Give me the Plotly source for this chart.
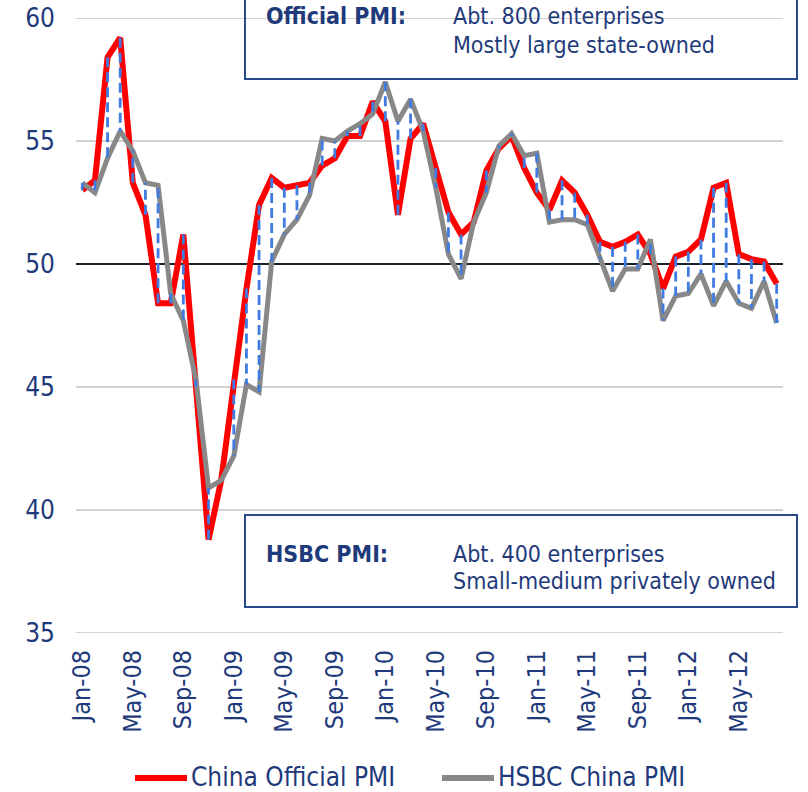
import plotly.graph_objects as go

# ---------------- data ----------------
months = [
    "Jan-08", "Feb-08", "Mar-08", "Apr-08", "May-08", "Jun-08", "Jul-08", "Aug-08", "Sep-08", "Oct-08", "Nov-08", "Dec-08",
    "Jan-09", "Feb-09", "Mar-09", "Apr-09", "May-09", "Jun-09", "Jul-09", "Aug-09", "Sep-09", "Oct-09", "Nov-09", "Dec-09",
    "Jan-10", "Feb-10", "Mar-10", "Apr-10", "May-10", "Jun-10", "Jul-10", "Aug-10", "Sep-10", "Oct-10", "Nov-10", "Dec-10",
    "Jan-11", "Feb-11", "Mar-11", "Apr-11", "May-11", "Jun-11", "Jul-11", "Aug-11", "Sep-11", "Oct-11", "Nov-11", "Dec-11",
    "Jan-12", "Feb-12", "Mar-12", "Apr-12", "May-12", "Jun-12", "Jul-12", "Aug-12",
]

official_pmi = [
    53.0, 53.4, 58.4, 59.2, 53.3, 52.0, 48.4, 48.4, 51.2, 45.0, 38.8, 41.2,
    45.3, 49.0, 52.4, 53.5, 53.1, 53.2, 53.3, 54.0, 54.3, 55.2, 55.2, 56.6,
    55.8, 52.0, 55.1, 55.7, 53.9, 52.1, 51.2, 51.7, 53.8, 54.7, 55.2, 53.9,
    52.9, 52.2, 53.4, 52.9, 52.0, 50.9, 50.7, 50.9, 51.2, 50.4, 49.0, 50.3,
    50.5, 51.0, 53.1, 53.3, 50.4, 50.2, 50.1, 49.2,
]

hsbc_pmi = [
    53.3, 52.9, 54.3, 55.4, 54.6, 53.3, 53.2, 48.8, 47.7, 45.3, 40.9, 41.2,
    42.2, 45.1, 44.8, 50.1, 51.2, 51.8, 52.8, 55.1, 55.0, 55.4, 55.7, 56.1,
    57.4, 55.8, 56.7, 55.4, 53.1, 50.4, 49.4, 51.7, 52.9, 54.8, 55.3, 54.4,
    54.5, 51.7, 51.8, 51.8, 51.6, 50.2, 48.9, 49.8, 49.8, 51.0, 47.7, 48.7,
    48.8, 49.6, 48.3, 49.3, 48.4, 48.2, 49.3, 47.6,
]

tick_labels = ["Jan-08", "May-08", "Sep-08", "Jan-09", "May-09", "Sep-09", "Jan-10",
               "May-10", "Sep-10", "Jan-11", "May-11", "Sep-11", "Jan-12", "May-12"]
y_ticks = [35, 40, 45, 50, 55, 60]
axis_cross = 50

series_names = ["China Official PMI", "HSBC China PMI"]

# ---------------- layout helpers ----------------
W, H = 808, 792
ML, MR, MT, MB = 76, 25, 18, 159
PW, PH = W - ML - MR, H - MT - MB
FONT = "DejaVu Sans Condensed, DejaVu Sans, sans-serif"
TXT = "#1F3A7A"
RED = "#FF0000"
GRAY = "#888888"
BLUE = "#3F7BE0"
BOXC = "#2B4A8B"


def px(x):
    return (x - ML) / PW


def py(y):
    return (H - MB - y) / PH


# ---------------- traces ----------------
hl_x, hl_y = [], []
for m, a, b in zip(months, official_pmi, hsbc_pmi):
    hl_x += [m, m, None]
    hl_y += [a, b, None]

fig = go.Figure()
fig.add_trace(go.Scatter(x=months, y=official_pmi, mode="lines", name=series_names[0],
                         line=dict(color=RED, width=6), showlegend=False))
fig.add_trace(go.Scatter(x=months, y=hsbc_pmi, mode="lines", name=series_names[1],
                         line=dict(color=GRAY, width=5), showlegend=False))
fig.add_trace(go.Scatter(x=hl_x, y=hl_y, mode="lines", name="difference",
                         line=dict(color=BLUE, width=2.8, dash="10px,5px"),
                         showlegend=False, hoverinfo="skip"))

shapes = []
# horizontal gridlines (the one at 50 is the dark category-axis line)
for v in y_ticks:
    dark = v == axis_cross
    shapes.append(dict(type="line", xref="paper", yref="y", x0=0, x1=1, y0=v, y1=v,
                       line=dict(color="#16222C" if dark else "#C3C3C3", width=1.8 if dark else 1.6),
                       layer="below"))
shapes += [
    # info boxes
    dict(type="rect", xref="paper", yref="paper", x0=px(245), x1=px(797), y0=py(79), y1=py(-3),
         line=dict(color=BOXC, width=2), fillcolor="rgba(0,0,0,0)"),
    dict(type="rect", xref="paper", yref="paper", x0=px(245), x1=px(797), y0=py(607), y1=py(515),
         line=dict(color=BOXC, width=2), fillcolor="rgba(0,0,0,0)"),
    # legend samples
    dict(type="line", xref="paper", yref="paper", x0=px(135), x1=px(187), y0=py(778), y1=py(778),
         line=dict(color=RED, width=6)),
    dict(type="line", xref="paper", yref="paper", x0=px(442), x1=px(494), y0=py(778), y1=py(778),
         line=dict(color=GRAY, width=6)),
]


def ann(text, x, y, size, bold=False):
    return dict(text=("<b>%s</b>" % text) if bold else text, xref="paper", yref="paper",
                x=px(x), y=py(y), xanchor="left", yanchor="middle", showarrow=False,
                borderpad=0, font=dict(family=FONT, size=size, color=TXT))


annotations = [
    ann("Official PMI:", 265, 16, 23, bold=True),
    ann("Abt. 800 enterprises", 452, 16, 23),
    ann("Mostly large state-owned", 452, 45, 23),
    ann("HSBC PMI:", 265, 554, 23, bold=True),
    ann("Abt. 400 enterprises", 452, 554, 23),
    ann("Small-medium privately owned", 452, 581, 23),
    ann(series_names[0], 190, 777, 26),
    ann(series_names[1], 497, 777, 26),
]

fig.update_layout(
    width=W, height=H,
    margin=dict(l=ML, r=MR, t=MT, b=MB, pad=0),
    paper_bgcolor="white", plot_bgcolor="rgba(0,0,0,0)",
    showlegend=False,
    shapes=shapes, annotations=annotations,
    font=dict(family=FONT, color=TXT),
)
fig.update_xaxes(type="category", categoryorder="array", categoryarray=months,
                 range=[-0.5, len(months) - 0.5], tickmode="array", tickvals=tick_labels,
                 ticktext=tick_labels, tickangle=-90, ticks="", showgrid=False, zeroline=False,
                 showline=False, tickfont=dict(family=FONT, size=25, color=TXT),
                 ticklabelstandoff=11, automargin=False)
fig.update_yaxes(range=[35, 60], tickmode="array", tickvals=y_ticks, ticks="", showgrid=False,
                 zeroline=False, showline=False,
                 tickfont=dict(family=FONT, size=26, color=TXT), ticklabelstandoff=20,
                 automargin=False)

fig.write_html(
    "out.html",
    config={"displayModeBar": False},
    post_script="document.body.style.margin='0';document.body.style.overflow='hidden';",
)
